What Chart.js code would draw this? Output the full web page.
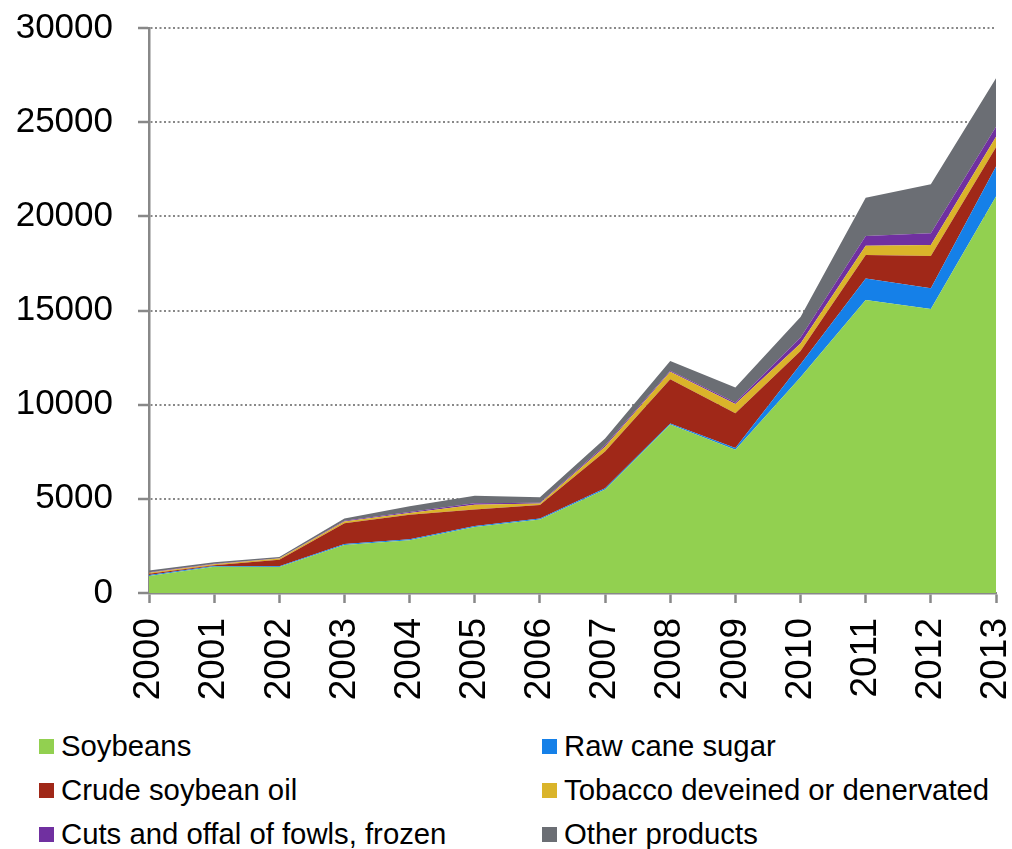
<!DOCTYPE html>
<html>
<head>
<meta charset="utf-8">
<script src="https://cdn.jsdelivr.net/npm/chart.js@4.4.1/dist/chart.umd.min.js"></script>
<style>
    html, body { margin: 0; padding: 0; background: #fff; }
    #wrap { position: relative; width: 1012px; height: 849px; }
    #chartBox { position: absolute; left: 0; top: 0; width: 1012px; height: 705px; }
    #legend { position: absolute; left: 0; top: 729px; width: 1012px; font-family: "Liberation Sans", Arial, sans-serif; font-size: 29.3px; color: #000; }
    .item { position: absolute; display: flex; align-items: center; white-space: nowrap; }
    .box { width: 15px; height: 15px; margin-right: 7px; }
</style>
</head>
<body>
<div id="wrap">
    <div id="chartBox"><canvas id="areaChart"></canvas></div>
    <div id="legend"></div>
</div>
<script>
const years = ['2000', '2001', '2002', '2003', '2004', '2005', '2006', '2007', '2008', '2009', '2010', '2011', '2012', '2013'];

const soybeans = [900, 1400, 1380, 2550, 2800, 3500, 3900, 5500, 8950, 7600, 11450, 15560, 15080, 21050];
const rawCaneSugar = [60, 30, 40, 50, 50, 60, 50, 60, 50, 100, 700, 1140, 1100, 1590];
const crudeSoybeanOil = [60, 50, 350, 1100, 1300, 880, 720, 1950, 2350, 1850, 700, 1250, 1720, 1030];
const tobacco = [50, 50, 60, 100, 100, 250, 80, 250, 400, 480, 400, 490, 580, 560];
const cutsOffal = [30, 20, 20, 30, 50, 70, 40, 80, 50, 80, 320, 520, 620, 530];
const otherProducts = [100, 80, 60, 120, 300, 400, 300, 370, 520, 800, 1080, 2030, 2600, 2570];

const seriesNames = ['Soybeans', 'Raw cane sugar', 'Crude soybean oil', 'Tobacco deveined or denervated', 'Cuts and offal of fowls, frozen', 'Other products'];
const seriesColors = ['#92D050', '#1580E8', '#A02818', '#DAB42A', '#7030A0', '#6B6E74'];
const seriesValues = [soybeans, rawCaneSugar, crudeSoybeanOil, tobacco, cutsOffal, otherProducts];

const yTicks = [0, 5000, 10000, 15000, 20000, 25000, 30000];

const datasets = seriesNames.map((name, i) => ({
    label: name,
    data: seriesValues[i],
    backgroundColor: seriesColors[i],
    borderColor: seriesColors[i],
    borderWidth: 0,
    pointRadius: 0,
    fill: i === 0 ? 'origin' : '-1',
    tension: 0
}));

const config = {
    type: 'line',
    data: { labels: years, datasets: datasets },
    options: {
        responsive: true,
        maintainAspectRatio: false,
        animation: false,
        layout: { padding: { left: 12, right: 16, top: 28, bottom: 0 } },
        plugins: {
            legend: { display: false },
            tooltip: { enabled: false }
        },
        scales: {
            x: {
                offset: false,
                grid: { drawOnChartArea: false, drawTicks: true, tickLength: 10, color: '#888', tickWidth: 2.5 },
                border: { color: '#888', width: 2.5 },
                ticks: {
                    minRotation: 90,
                    maxRotation: 90,
                    padding: 15,
                    color: '#000',
                    font: { family: '"Liberation Sans", Arial, sans-serif', size: 37 }
                },
                afterFit: (axis) => {
                    axis.height = 112;
                    axis.paddingLeft = 0;
                    axis.paddingRight = 0;
                }
            },
            y: {
                stacked: true,
                min: 0,
                max: 30000,
                afterBuildTicks: (axis) => { axis.ticks = yTicks.map(v => ({ value: v })); },
                grid: { color: '#888', lineWidth: 2, tickColor: '#888', tickWidth: 2.5, tickLength: 11, tickBorderDash: [] },
                border: { color: '#888', width: 2.5, dash: [2, 2.5] },
                ticks: {
                    padding: 25,
                    color: '#000',
                    font: { family: '"Liberation Sans", Arial, sans-serif', size: 35 },
                    callback: (value) => String(value)
                },
                afterFit: (axis) => {
                    axis.width = 137;
                    axis.paddingTop = 0;
                    axis.paddingBottom = 0;
                }
            }
        }
    }
};

new Chart(document.getElementById('areaChart').getContext('2d'), config);

// two-column legend under the chart
const legendEl = document.getElementById('legend');
seriesNames.forEach((name, i) => {
    const item = document.createElement('div');
    item.className = 'item';
    item.style.left = (i % 2 === 0 ? 39 : 542) + 'px';
    item.style.top = (Math.floor(i / 2) * 44) + 'px';
    item.innerHTML = '<span class="box" style="background:' + seriesColors[i] + '"></span><span>' + name + '</span>';
    legendEl.appendChild(item);
});
</script>
</body>
</html>
